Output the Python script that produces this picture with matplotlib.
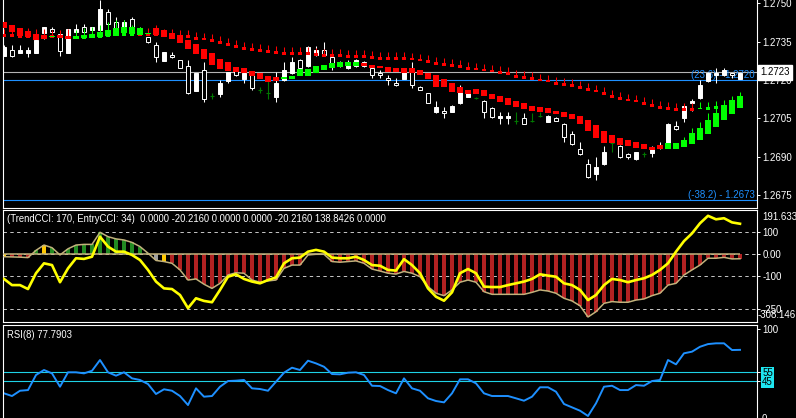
import matplotlib.pyplot as plt
import numpy as np

plt.rcParams['font.family'] = ['Liberation Sans', 'DejaVu Sans']

# main chart: regular candles
opens = [1.27293, 1.27317, 1.27305, 1.27305, 1.27305, 1.27383, 1.27399, 1.27379, 1.27305, 1.27387,
         1.27407, 1.27395, 1.27395, 1.27465, 1.27426, 1.27407, 1.27438, 1.27403, 1.27367, 1.27336,
         1.27274, 1.27297, 1.27278, 1.27254, 1.27157, 1.27239, 1.27137, 1.27145, 1.27196, 1.27235,
         1.27204, 1.27219, 1.27161, 1.27149, 1.27133, 1.27200, 1.27227, 1.27278, 1.27254, 1.27297,
         1.27317, 1.27289, 1.27270, 1.27247, 1.27254, 1.27270, 1.27247, 1.27227, 1.27208, 1.27188,
         1.27204, 1.27239, 1.27172, 1.27149, 1.27075, 1.27079, 1.27075, 1.27110, 1.27133, 1.27129,
         1.27118, 1.27090, 1.27051, 1.27051, 1.27040, 1.27051, 1.27040, 1.27059, 1.27036, 1.27051,
         1.27028, 1.26989, 1.26931, 1.26872, 1.26833, 1.26872, 1.26954, 1.26942, 1.26911, 1.26892,
         1.26911, 1.26915, 1.26942, 1.26938, 1.27020, 1.27051, 1.27110, 1.27129, 1.27196, 1.27219,
         1.27219, 1.27227, 1.27204]
highs = [1.27336, 1.27336, 1.27336, 1.27328, 1.27364, 1.27407, 1.27407, 1.27383, 1.27399, 1.27418,
         1.27418, 1.27407, 1.27512, 1.27477, 1.27445, 1.27434, 1.27445, 1.27407, 1.27367, 1.27348,
         1.27309, 1.27309, 1.27278, 1.27278, 1.27227, 1.27270, 1.27149, 1.27200, 1.27231, 1.27239,
         1.27227, 1.27223, 1.27172, 1.27200, 1.27231, 1.27270, 1.27289, 1.27282, 1.27332, 1.27332,
         1.27348, 1.27297, 1.27274, 1.27278, 1.27282, 1.27274, 1.27250, 1.27239, 1.27219, 1.27208,
         1.27247, 1.27270, 1.27176, 1.27149, 1.27118, 1.27094, 1.27102, 1.27180, 1.27153, 1.27133,
         1.27122, 1.27094, 1.27075, 1.27075, 1.27075, 1.27071, 1.27071, 1.27075, 1.27063, 1.27055,
         1.27032, 1.27001, 1.26958, 1.26892, 1.26899, 1.26942, 1.26977, 1.26946, 1.26915, 1.26919,
         1.26919, 1.26942, 1.26958, 1.27032, 1.27040, 1.27102, 1.27126, 1.27200, 1.27231, 1.27247,
         1.27247, 1.27227, 1.27227]
lows = [1.27293, 1.27289, 1.27305, 1.27289, 1.27305, 1.27360, 1.27387, 1.27293, 1.27305, 1.27383,
        1.27387, 1.27395, 1.27395, 1.27414, 1.27399, 1.27403, 1.27395, 1.27379, 1.27344, 1.27270,
        1.27274, 1.27286, 1.27247, 1.27145, 1.27157, 1.27114, 1.27126, 1.27133, 1.27188, 1.27215,
        1.27188, 1.27161, 1.27149, 1.27126, 1.27114, 1.27196, 1.27223, 1.27243, 1.27250, 1.27293,
        1.27293, 1.27239, 1.27250, 1.27243, 1.27250, 1.27250, 1.27208, 1.27208, 1.27180, 1.27176,
        1.27204, 1.27168, 1.27161, 1.27110, 1.27071, 1.27051, 1.27075, 1.27106, 1.27133, 1.27126,
        1.27051, 1.27051, 1.27028, 1.27028, 1.27028, 1.27028, 1.27036, 1.27055, 1.27036, 1.27040,
        1.26958, 1.26946, 1.26907, 1.26818, 1.26810, 1.26868, 1.26919, 1.26895, 1.26892, 1.26888,
        1.26899, 1.26899, 1.26931, 1.26934, 1.27005, 1.27036, 1.27079, 1.27126, 1.27192, 1.27188,
        1.27215, 1.27208, 1.27204]
closes = [1.27328, 1.27293, 1.27317, 1.27317, 1.27356, 1.27407, 1.27387, 1.27313, 1.27399, 1.27399,
          1.27387, 1.27407, 1.27477, 1.27418, 1.27403, 1.27426, 1.27403, 1.27383, 1.27348, 1.27289,
          1.27309, 1.27289, 1.27247, 1.27149, 1.27227, 1.27126, 1.27137, 1.27188, 1.27231, 1.27219,
          1.27227, 1.27168, 1.27161, 1.27149, 1.27188, 1.27239, 1.27270, 1.27247, 1.27328, 1.27317,
          1.27297, 1.27250, 1.27254, 1.27270, 1.27278, 1.27254, 1.27219, 1.27219, 1.27200, 1.27180,
          1.27243, 1.27180, 1.27161, 1.27110, 1.27094, 1.27071, 1.27098, 1.27172, 1.27149, 1.27129,
          1.27075, 1.27055, 1.27059, 1.27059, 1.27040, 1.27028, 1.27040, 1.27059, 1.27059, 1.27040,
          1.26977, 1.26950, 1.26911, 1.26821, 1.26860, 1.26919, 1.26954, 1.26899, 1.26899, 1.26919,
          1.26911, 1.26931, 1.26934, 1.27028, 1.27009, 1.27098, 1.27118, 1.27180, 1.27227, 1.27227,
          1.27239, 1.27219, 1.27227]

# smoothed heiken ashi, slow (small markers)
slow_open = [1.27379, 1.27379, 1.27375, 1.27375, 1.27375, 1.27375, 1.27375, 1.27375, 1.27371, 1.27371,
             1.27361, 1.27365, 1.27365, 1.27369, 1.27373, 1.27373, 1.27373, 1.27383, 1.27383, 1.27383,
             1.27379, 1.27379, 1.27375, 1.27375, 1.27367, 1.27364, 1.27360, 1.27352, 1.27344, 1.27336,
             1.27328, 1.27324, 1.27320, 1.27317, 1.27313, 1.27309, 1.27309, 1.27309, 1.27309, 1.27305,
             1.27301, 1.27301, 1.27301, 1.27297, 1.27297, 1.27297, 1.27293, 1.27289, 1.27289, 1.27289,
             1.27289, 1.27286, 1.27282, 1.27278, 1.27270, 1.27266, 1.27262, 1.27258, 1.27250, 1.27247,
             1.27243, 1.27239, 1.27235, 1.27231, 1.27219, 1.27215, 1.27211, 1.27204, 1.27200, 1.27192,
             1.27188, 1.27184, 1.27176, 1.27168, 1.27161, 1.27153, 1.27141, 1.27133, 1.27126, 1.27122,
             1.27114, 1.27106, 1.27098, 1.27094, 1.27090, 1.27090, 1.27090, 1.27088, 1.27084, 1.27088,
             1.27088, 1.27108, 1.27119]
slow_close = [1.27369, 1.27369, 1.27365, 1.27365, 1.27365, 1.27365, 1.27365, 1.27365, 1.27361, 1.27361,
              1.27371, 1.27375, 1.27375, 1.27379, 1.27383, 1.27383, 1.27383, 1.27373, 1.27373, 1.27373,
              1.27369, 1.27369, 1.27365, 1.27365, 1.27357, 1.27354, 1.27350, 1.27342, 1.27334, 1.27326,
              1.27318, 1.27314, 1.27310, 1.27307, 1.27303, 1.27299, 1.27299, 1.27299, 1.27299, 1.27295,
              1.27291, 1.27291, 1.27291, 1.27287, 1.27287, 1.27287, 1.27283, 1.27279, 1.27279, 1.27279,
              1.27279, 1.27276, 1.27272, 1.27268, 1.27260, 1.27256, 1.27252, 1.27248, 1.27240, 1.27237,
              1.27233, 1.27229, 1.27225, 1.27221, 1.27209, 1.27205, 1.27201, 1.27194, 1.27190, 1.27182,
              1.27178, 1.27174, 1.27166, 1.27158, 1.27151, 1.27143, 1.27131, 1.27123, 1.27116, 1.27112,
              1.27104, 1.27096, 1.27088, 1.27084, 1.27080, 1.27080, 1.27080, 1.27092, 1.27094, 1.27098,
              1.27098, 1.27118, 1.27129]
slow_high = [1.27399, 1.27399, 1.27395, 1.27395, 1.27395, 1.27395, 1.27395, 1.27395, 1.27391, 1.27391,
             1.27391, 1.27395, 1.27395, 1.27399, 1.27403, 1.27403, 1.27403, 1.27403, 1.27403, 1.27403,
             1.27399, 1.27399, 1.27395, 1.27395, 1.27387, 1.27384, 1.27380, 1.27372, 1.27364, 1.27356,
             1.27348, 1.27344, 1.27340, 1.27337, 1.27333, 1.27329, 1.27329, 1.27329, 1.27329, 1.27325,
             1.27321, 1.27321, 1.27321, 1.27317, 1.27317, 1.27317, 1.27313, 1.27309, 1.27309, 1.27309,
             1.27309, 1.27306, 1.27302, 1.27298, 1.27290, 1.27286, 1.27282, 1.27278, 1.27270, 1.27267,
             1.27263, 1.27259, 1.27255, 1.27251, 1.27239, 1.27235, 1.27231, 1.27224, 1.27220, 1.27212,
             1.27208, 1.27204, 1.27196, 1.27188, 1.27181, 1.27173, 1.27161, 1.27153, 1.27146, 1.27142,
             1.27134, 1.27126, 1.27118, 1.27114, 1.27110, 1.27110, 1.27110, 1.27112, 1.27114, 1.27118,
             1.27118, 1.27138, 1.27149]

# smoothed heiken ashi, fast (boxes)
fast_open = [1.27426, 1.27414, 1.27403, 1.27391, 1.27379, 1.27375, 1.27367, 1.27375, 1.27371, 1.27360,
             1.27364, 1.27364, 1.27367, 1.27371, 1.27371, 1.27383, 1.27379, 1.27375, 1.27381, 1.27403,
             1.27395, 1.27383, 1.27375, 1.27356, 1.27340, 1.27321, 1.27305, 1.27282, 1.27270, 1.27250,
             1.27247, 1.27235, 1.27227, 1.27215, 1.27211, 1.27204, 1.27204, 1.27215, 1.27215, 1.27227,
             1.27239, 1.27247, 1.27250, 1.27254, 1.27254, 1.27266, 1.27258, 1.27254, 1.27250, 1.27247,
             1.27247, 1.27247, 1.27239, 1.27227, 1.27219, 1.27204, 1.27188, 1.27172, 1.27161, 1.27165,
             1.27161, 1.27145, 1.27137, 1.27129, 1.27118, 1.27110, 1.27098, 1.27094, 1.27090, 1.27079,
             1.27075, 1.27067, 1.27059, 1.27044, 1.27024, 1.27001, 1.26985, 1.26974, 1.26966, 1.26958,
             1.26950, 1.26938, 1.26946, 1.26931, 1.26931, 1.26938, 1.26950, 1.26966, 1.26989, 1.27016,
             1.27044, 1.27067, 1.27090]
fast_close = [1.27403, 1.27387, 1.27371, 1.27367, 1.27356, 1.27360, 1.27371, 1.27364, 1.27360, 1.27371,
              1.27375, 1.27379, 1.27387, 1.27395, 1.27403, 1.27407, 1.27407, 1.27403, 1.27383, 1.27375,
              1.27367, 1.27360, 1.27344, 1.27321, 1.27301, 1.27282, 1.27258, 1.27243, 1.27235, 1.27231,
              1.27227, 1.27215, 1.27204, 1.27192, 1.27196, 1.27211, 1.27215, 1.27243, 1.27243, 1.27254,
              1.27258, 1.27266, 1.27270, 1.27270, 1.27270, 1.27254, 1.27247, 1.27247, 1.27231, 1.27231,
              1.27227, 1.27227, 1.27219, 1.27204, 1.27172, 1.27172, 1.27153, 1.27149, 1.27145, 1.27145,
              1.27137, 1.27126, 1.27114, 1.27102, 1.27094, 1.27087, 1.27079, 1.27075, 1.27071, 1.27067,
              1.27055, 1.27048, 1.27028, 1.27001, 1.26974, 1.26954, 1.26954, 1.26946, 1.26942, 1.26934,
              1.26931, 1.26927, 1.26931, 1.26954, 1.26954, 1.26966, 1.26993, 1.27012, 1.27044, 1.27071,
              1.27102, 1.27122, 1.27137]
fast_high = [1.27426, 1.27414, 1.27403, 1.27403, 1.27399, 1.27399, 1.27371, 1.27387, 1.27399, 1.27395,
             1.27403, 1.27407, 1.27414, 1.27426, 1.27434, 1.27434, 1.27414, 1.27407, 1.27383, 1.27414,
             1.27395, 1.27383, 1.27375, 1.27356, 1.27340, 1.27321, 1.27305, 1.27282, 1.27270, 1.27250,
             1.27247, 1.27235, 1.27227, 1.27215, 1.27211, 1.27211, 1.27215, 1.27243, 1.27243, 1.27254,
             1.27258, 1.27266, 1.27270, 1.27270, 1.27270, 1.27266, 1.27258, 1.27254, 1.27250, 1.27247,
             1.27247, 1.27247, 1.27239, 1.27227, 1.27219, 1.27204, 1.27188, 1.27172, 1.27161, 1.27165,
             1.27161, 1.27145, 1.27137, 1.27129, 1.27118, 1.27110, 1.27098, 1.27094, 1.27090, 1.27079,
             1.27075, 1.27067, 1.27059, 1.27044, 1.27024, 1.27001, 1.26985, 1.26974, 1.26966, 1.26958,
             1.26950, 1.26938, 1.26946, 1.26954, 1.26954, 1.26977, 1.27012, 1.27036, 1.27071, 1.27098,
             1.27122, 1.27133, 1.27153]

bid = 1.2723
fib_levels = [1.2720, 1.2673]
fib_names = ['(23.6) - 1.2720', '(-38.2) - 1.2673']
price_ticks = [1.2750, 1.2735, 1.2720, 1.2705, 1.2690, 1.2675]

# CCI panel
trend_cci = [-11, -12, -13, -15, 18, 42, 30, -3, 25, 42, 45, 45, 100, 80, 70, 65, 54, 35, 5, -28,
             -33, -41, -71, -117, -112, -136, -155, -132, -94, -84, -86, -117, -127, -121, -117, -64,
             -49, -49, -3, 0, 0, -33, -36, -33, -30, -41, -67, -76, -86, -90,
             -78, -86, -102, -147, -177, -188, -162, -127, -117, -127, -170, -182, -182, -182, -182,
             -182, -173, -162, -167, -177, -200, -212, -234, -285, -261, -223, -215, -218, -218, -208,
             -203, -188, -177, -140, -132, -94, -71, -49, -18, -18, -14, -21, -20.216]
entry_cci = [-112, -140, -140, -158, -86, -41, -49, -127, -64, -18, -21, -11, 80, 35, 12, 12, -3, -26,
             -71, -124, -155, -158, -185, -245, -200, -212, -218, -162, -102, -91, -112, -124, -132,
             -117, -105, -41, -18, -15, 12, 20, 12, -15, -18, -18, -11, -26, -49, -52, -71, -74,
             -22, -49, -86, -155, -193, -211, -173, -86, -67, -86, -147, -149, -149, -140, -132, -124,
             -112, -91, -97, -102, -132, -140, -162, -208, -185, -140, -112, -117, -127, -117, -109,
             -94, -71, -41, 12, 60, 95, 141, 175, 159, 164, 145, 138.84]
trend_state = (['warn'] + ['bear'] * 3 + ['bull'] + ['warn'] + ['bull'] * 13 + ['flat'] + ['warn']
               + ['bear'] * 72)
cci_levels = [100, 0, -100, -250]
cci_max, cci_min = 191.633, -308.146
cci_header = '(TrendCCI: 170, EntryCCI: 34)  0.0000 -20.2160 0.0000 0.0000 -20.2160 138.8426 0.0000'

# RSI panel
rsi = [32.5, 29.7, 35.2, 35.9, 51.6, 56.8, 53.3, 39.4, 54.4, 54.4, 53.3, 56.0, 67.2, 54.4, 50.9,
       54.4, 48.1, 46.4, 42.2, 31.8, 36.7, 35.2, 29.7, 20.3, 37.7, 29.0, 29.7, 39.4, 45.3, 45.7,
       46.4, 37.7, 37.0, 35.2, 44.6, 54.0, 59.2, 56.8, 66.5, 63.7, 60.2, 52.6, 52.3, 54.0, 54.4,
       51.6, 40.4, 40.1, 35.9, 32.5,
       48.1, 37.7, 35.2, 27.3, 24.5, 23.1, 32.5, 47.1, 47.1, 42.9, 32.5, 29.7, 29.7, 29.7, 27.3,
       24.8, 29.0, 38.8, 38.8, 34.2, 21.4, 17.9, 14.4, 8.9, 22.1, 39.4, 40.4, 35.9, 35.9, 41.1,
       40.4, 45.3, 46.4, 67.2, 62.7, 74.2, 75.9, 81.0, 83.8, 84.6, 84.6, 77.6, 77.79]
rsi_levels = [55, 45]
rsi_header = 'RSI(8) 77.7903'

W, H = 796, 418
fig = plt.figure(figsize=(W / 100, H / 100), dpi=100, facecolor='black')
ax = fig.add_axes([3 / W, 1 - 207.5 / H, 754 / W, 207.5 / H])
cci_ax = fig.add_axes([3 / W, 1 - 321.5 / H, 754 / W, 112 / H])
rsi_ax = fig.add_axes([3 / W, 0, 754 / W, 93.5 / H])

x = np.arange(len(closes))
o, h, l, c = map(np.array, (opens, highs, lows, closes))

for a in (ax, cci_ax, rsi_ax):
    a.set_facecolor('black')
    a.set_xlim(-0.125, 94.125)
    a.set_xticks([])
    for s in a.spines.values():
        s.set_color('white')
        s.set_linewidth(0.8)
    a.yaxis.tick_right()
    a.tick_params(axis='y', colors='white', labelsize=7, length=2.2, width=0.7, pad=1.5)
ax.spines['top'].set_visible(False)
rsi_ax.spines['bottom'].set_visible(False)

# --- price panel ---
ax.set_ylim(1.26702, 1.27512)
ax.axhline(bid, color='#b4b4b4', lw=0.8, zorder=1)
for lv, name in zip(fib_levels, fib_names):
    ax.axhline(lv, color='#1e90ff', lw=0.8, zorder=1)
    ax.text(0.997, lv, name, transform=ax.get_yaxis_transform(), color='#1e90ff',
            fontsize=7, ha='right', va='bottom', zorder=1)

up, dn, dj = c > o, c < o, c == o
ax.vlines(x[~dj], l[~dj], h[~dj], color='white', lw=0.75, zorder=2)
ax.bar(x[up], (c - o)[up], bottom=o[up], width=0.55, facecolor='white', edgecolor='white',
       lw=0.7, zorder=3)
ax.bar(x[dn], (o - c)[dn], bottom=c[dn], width=0.55, facecolor='black', edgecolor='white',
       lw=0.7, zorder=3)
ax.vlines(x[dj], l[dj], h[dj], color='#007800', lw=0.8, zorder=3)
ax.hlines(o[dj], x[dj] - 0.3, x[dj] + 0.3, color='#007800', lw=0.8, zorder=3)

for so, sc, sh, wd, z in [(slow_open, slow_close, slow_high, 0.62, 4),
                          (fast_open, fast_close, fast_high, 0.7, 5)]:
    so, sc, sh = map(np.array, (so, sc, sh))
    cols = np.where(sc >= so, '#00ff00', '#ff0000')
    top = np.maximum(so, sc)
    bot = np.minimum(so, sc)
    ax.vlines(x, top, sh, colors=cols, lw=0.75, zorder=z)
    ax.bar(x, np.maximum(top - bot, 0.00002), bottom=bot, width=wd, color=cols, lw=0, zorder=z)

ax.set_yticks(price_ticks)
ax.set_yticklabels([f'{t:.4f}' for t in price_ticks])
ax.text(1.004, bid, f'{bid:.4f}', transform=ax.get_yaxis_transform(), color='black', fontsize=7,
        ha='left', va='center', zorder=10, clip_on=False,
        bbox=dict(facecolor='white', edgecolor='white', boxstyle='square,pad=0.25'))

# --- CCI panel ---
cci_ax.set_ylim(-305.5, 203.6)
state_colors = {'bull': '#228b22', 'bear': '#b22222', 'warn': '#ffc800', 'flat': '#a0a0a0'}
for lv in cci_levels:
    cci_ax.axhline(lv, color='#c8c8c8', lw=0.7, ls=(0, (3.5, 3.5)), zorder=1)
cci_ax.bar(x, trend_cci, width=0.45, color=[state_colors[s] for s in trend_state], zorder=2)
tan = '#c2b27c'
cci_ax.hlines(0, -0.125, x[-1], color=tan, lw=1.1, zorder=3)
cci_ax.plot(x, trend_cci, color=tan, lw=1.1, zorder=3)
cci_ax.plot(x, entry_cci, color='#ffff00', lw=1.9, zorder=4)
cci_ax.set_yticks(cci_levels)
cci_ax.set_yticklabels(['100', '0.00', '-100', '-250'])
cci_ax.annotate(f'{cci_max:.3f}', xy=(1, 1), xycoords='axes fraction', xytext=(5, -8),
                textcoords='offset pixels', color='white', fontsize=7, va='center')
cci_ax.annotate(f'{cci_min:.3f}', xy=(1, 0), xycoords='axes fraction', xytext=(1, 6),
                textcoords='offset pixels', color='white', fontsize=7, va='center')
cci_ax.annotate(cci_header, xy=(0, 1), xycoords='axes fraction', xytext=(4, -9),
                textcoords='offset pixels', color='white', fontsize=6.85, va='center')

# --- RSI panel ---
rsi_ax.set_ylim(6.8, 104.2)
for lv in rsi_levels:
    rsi_ax.axhline(lv, color='#1ed2e6', lw=0.8, zorder=1)
rsi_ax.plot(x, rsi, color='#1e90ff', lw=1.4, zorder=2)
rsi_ax.set_yticks([100] + rsi_levels)
rsi_ax.set_yticklabels(['100'] + [str(v) for v in rsi_levels])
for lab in rsi_ax.get_yticklabels()[1:]:
    lab.set_color('black')
    lab.set_bbox(dict(facecolor='#1ee6f0', edgecolor='none', boxstyle='square,pad=0.1'))
rsi_ax.annotate('0', xy=(1, 0), xycoords='axes fraction', xytext=(5, -1),
                textcoords='offset pixels', color='white', fontsize=7, va='center')
rsi_ax.annotate(rsi_header, xy=(0, 1), xycoords='axes fraction', xytext=(4, -11),
                textcoords='offset pixels', color='white', fontsize=6.85, va='center')

fig.savefig('out.png', dpi=100, facecolor='black')
